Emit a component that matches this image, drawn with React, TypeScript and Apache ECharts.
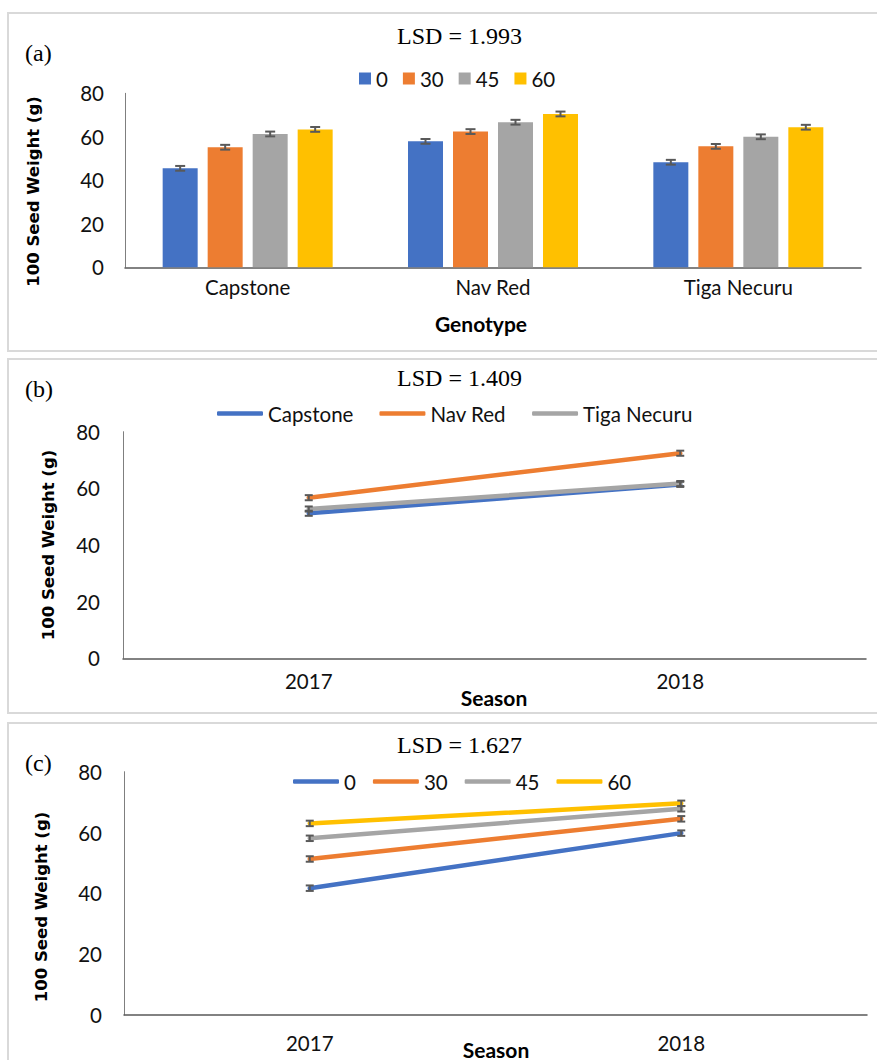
import React, { useEffect, useRef } from "react";
import * as echarts from "echarts";

// ---------- data ----------
const genotypes = ["Capstone", "Nav Red", "Tiga Necuru"];
const levels = ["0", "30", "45", "60"];
const bar0 = [45.5, 57.9, 48.3];
const bar30 = [55.2, 62.4, 55.6];
const bar45 = [61.3, 66.7, 60.0];
const bar60 = [63.4, 70.5, 64.4];
const barErr0 = [1.1, 1.1, 1.1];
const barErr30 = [1.1, 1.1, 1.1];
const barErr45 = [1.1, 1.1, 1.1];
const barErr60 = [1.1, 1.1, 1.1];

const seasons = ["2017", "2018"];
const genoNames = ["Capstone", "Nav Red", "Tiga Necuru"];
const capstoneSeason = [51.2, 61.4];
const navRedSeason = [56.7, 72.4];
const tigaSeason = [52.7, 61.7];
const genoSeasonErr = [0.9, 0.9];

const lvl0Season = [41.7, 59.8];
const lvl30Season = [51.3, 64.5];
const lvl45Season = [58.1, 67.8];
const lvl60Season = [63.0, 69.6];
const lvlSeasonErr = [0.9, 0.9];

const lsdTexts = ["LSD = 1.993", "LSD = 1.409", "LSD = 1.627"];
const panelTags = ["(a)", "(b)", "(c)"];
const yName = "100 Seed Weight (g)";

// ---------- style ----------
const COLORS = ["#4472C4", "#ED7D31", "#A5A5A5", "#FFC000"];
const SANS = "Lato";
const SERIF = "Liberation Serif";
const ERR_COLOR = "#595959";
const BAR_W = 35;
const BAR_GAP = 10;

function errRender(offset: number, capHalf: number) {
  return (params: any, api: any) => {
    const x = api.value(0);
    const v = api.value(1);
    const e = api.value(2);
    const hi = api.coord([x, v + e]);
    const lo = api.coord([x, v - e]);
    const cx = hi[0] + offset;
    const style = { stroke: ERR_COLOR, lineWidth: 2 };
    return {
      type: "group",
      children: [
        { type: "line", shape: { x1: cx, y1: hi[1], x2: cx, y2: lo[1] }, style },
        { type: "line", shape: { x1: cx - capHalf, y1: hi[1], x2: cx + capHalf, y2: hi[1] }, style },
        { type: "line", shape: { x1: cx - capHalf, y1: lo[1], x2: cx + capHalf, y2: lo[1] }, style },
      ],
    };
  };
}

function yAxis(gridIndex: number, margin: number) {
  return {
    type: "value",
    gridIndex,
    min: 0,
    max: 80,
    interval: 20,
    axisLine: { show: true, lineStyle: { color: "#7f7f7f", width: 1 } },
    axisTick: { show: false },
    splitLine: { show: false },
    axisLabel: { fontFamily: SANS, fontSize: 20.5, color: "#111", margin },
  };
}

function xAxis(gridIndex: number, data: string[], margin: number) {
  return {
    type: "category",
    gridIndex,
    data,
    axisLine: { show: true, lineStyle: { color: "#595959", width: 1.5 } },
    axisTick: { show: false },
    axisLabel: { fontFamily: SANS, fontSize: 20.5, color: "#111", margin },
  };
}

export default function App() {
  const ref = useRef<HTMLDivElement>(null);

  useEffect(() => {
    if (!ref.current) return;
    const chart = echarts.init(ref.current, undefined, { renderer: "svg" });

    const barSets = [bar0, bar30, bar45, bar60];
    const barErrs = [barErr0, barErr30, barErr45, barErr60];
    const series: any[] = [];

    barSets.forEach((vals, k) => {
      series.push({
        type: "bar",
        name: levels[k],
        xAxisIndex: 0,
        yAxisIndex: 0,
        data: vals,
        barWidth: BAR_W,
        barGap: ((BAR_GAP / BAR_W) * 100).toFixed(2) + "%",
        itemStyle: { color: COLORS[k] },
      });
    });
    barSets.forEach((vals, k) => {
      series.push({
        type: "custom",
        name: "errA" + k,
        xAxisIndex: 0,
        yAxisIndex: 0,
        z: 5,
        renderItem: errRender((k - 1.5) * (BAR_W + BAR_GAP), 5),
        data: vals.map((v, i) => [i, v, barErrs[k][i]]),
      });
    });

    const genoSets = [capstoneSeason, navRedSeason, tigaSeason];
    genoSets.forEach((vals, k) => {
      series.push({
        type: "line",
        name: genoNames[k],
        xAxisIndex: 1,
        yAxisIndex: 1,
        data: vals,
        symbol: "none",
        z: 3,
        lineStyle: { color: COLORS[k], width: 4.5, cap: "round" },
        itemStyle: { color: COLORS[k] },
      });
      series.push({
        type: "custom",
        name: "errB" + k,
        xAxisIndex: 1,
        yAxisIndex: 1,
        z: 4,
        renderItem: errRender(0, 4),
        data: vals.map((v, i) => [i, v, genoSeasonErr[i]]),
      });
    });

    const lvlSets = [lvl0Season, lvl30Season, lvl45Season, lvl60Season];
    lvlSets.forEach((vals, k) => {
      series.push({
        type: "line",
        name: levels[k],
        xAxisIndex: 2,
        yAxisIndex: 2,
        data: vals,
        symbol: "none",
        z: 3,
        lineStyle: { color: COLORS[k], width: 4.5, cap: "round" },
        itemStyle: { color: COLORS[k] },
      });
      series.push({
        type: "custom",
        name: "errC" + k,
        xAxisIndex: 2,
        yAxisIndex: 2,
        z: 4,
        renderItem: errRender(0, 4),
        data: vals.map((v, i) => [i, v, lvlSeasonErr[i]]),
      });
    });

    const legendText = { fontFamily: SANS, fontSize: 20.5, color: "#111" };

    const border = (y: number, h: number) => ({
      type: "rect",
      z: -10,
      shape: { x: 8, y, width: 900, height: h },
      style: { fill: "#fff", stroke: "#d9d9d9", lineWidth: 2 },
    });
    const serifText = (text: string, x: number, y: number, align: string) => ({
      type: "text",
      x,
      y,
      style: {
        text,
        fontFamily: SERIF,
        fontSize: 24,
        fill: "#000",
        align,
        verticalAlign: "middle",
      },
    });
    const yNameText = (x: number, y: number) => ({
      type: "text",
      x,
      y,
      rotation: Math.PI / 2,
      style: {
        text: yName,
        fontFamily: "DejaVu Sans",
        fontWeight: "bold",
        fontSize: 16.5,
        fill: "#000",
        align: "center",
        verticalAlign: "middle",
      },
    });
    const xNameText = (text: string, x: number, y: number) => ({
      type: "text",
      x,
      y,
      style: {
        text,
        fontFamily: SANS,
        fontWeight: "bold",
        fontSize: 21,
        fill: "#000",
        align: "center",
        verticalAlign: "middle",
      },
    });

    chart.setOption({
      animation: false,
      backgroundColor: "#fff",
      grid: [
        { left: 125, top: 93.3, width: 736, height: 174 },
        { left: 123, top: 431.7, width: 743, height: 226.6 },
        { left: 124, top: 771.7, width: 743, height: 243.3 },
      ],
      xAxis: [xAxis(0, genotypes, 9), xAxis(1, seasons, 12), xAxis(2, seasons, 17)],
      yAxis: [yAxis(0, 21), yAxis(1, 23), yAxis(2, 22)],
      legend: [
        {
          data: levels.map((n) => ({ name: n, icon: "rect" })),
          left: 354,
          top: 63,
          itemWidth: 12,
          itemHeight: 12,
          itemGap: 15,
          selectedMode: false,
          itemStyle: { borderWidth: 0 },
          textStyle: legendText,
        },
        {
          data: genoNames.map((n) => ({ name: n, icon: "roundRect" })),
          left: 212,
          top: 398,
          itemWidth: 46,
          itemHeight: 4.5,
          itemGap: 26,
          selectedMode: false,
          itemStyle: { borderWidth: 0 },
          textStyle: legendText,
        },
        {
          data: levels.map((n) => ({ name: n, icon: "roundRect" })),
          left: 288,
          top: 766,
          itemWidth: 46,
          itemHeight: 4.5,
          itemGap: 17,
          selectedMode: false,
          itemStyle: { borderWidth: 0 },
          textStyle: legendText,
        },
      ],
      graphic: [
        border(13, 338),
        border(359, 354),
        border(723, 360),
        serifText(lsdTexts[0], 459.5, 35.5, "center"),
        serifText(lsdTexts[1], 459.5, 378, "center"),
        serifText(lsdTexts[2], 459.5, 745, "center"),
        serifText(panelTags[0], 25, 53, "left"),
        serifText(panelTags[1], 25, 389, "left"),
        serifText(panelTags[2], 25, 763, "left"),
        yNameText(33, 191.5),
        yNameText(48, 545),
        yNameText(41, 907),
        xNameText("Genotype", 481, 323),
        xNameText("Season", 494, 697),
        xNameText("Season", 496, 1049),
      ],
      series,
    });

    return () => chart.dispose();
  }, []);

  return (
    <div
      ref={ref}
      style={{ position: "fixed", left: 0, top: 0, width: 877, height: 1060, background: "#fff" }}
    />
  );
}
